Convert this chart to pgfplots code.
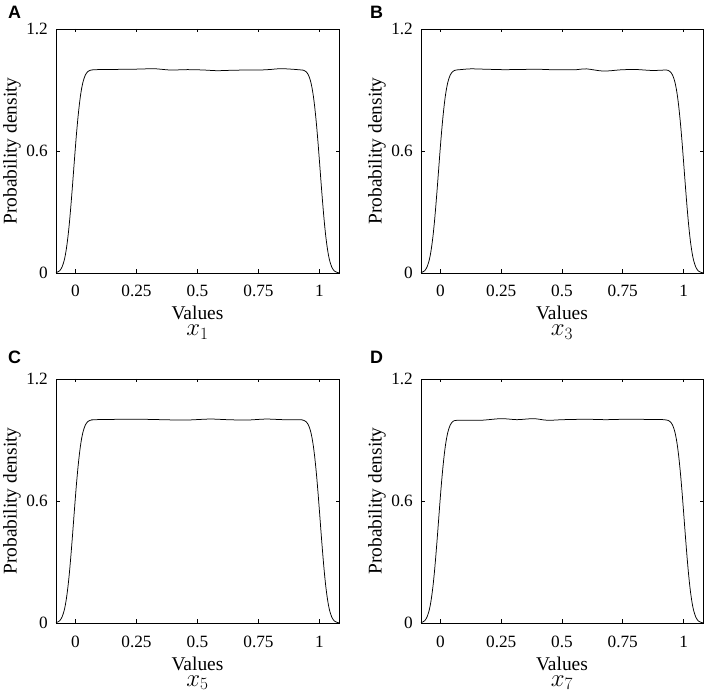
\documentclass[border=0pt]{standalone}
\usepackage{pgfplots}
\pgfplotsset{compat=1.18}
\usepackage{pgfplotstable}
\usepackage{fontspec}
\setmainfont{Liberation Serif}
\newfontfamily\letterfont{Liberation Sans}

\pgfplotstableread{
x y
-0.080 0.002
-0.075 0.004
-0.070 0.007
-0.065 0.011
-0.060 0.019
-0.055 0.030
-0.050 0.047
-0.045 0.069
-0.040 0.100
-0.035 0.140
-0.030 0.189
-0.025 0.248
-0.020 0.316
-0.015 0.390
-0.010 0.468
-0.005 0.548
0.000 0.626
0.005 0.699
0.010 0.764
0.015 0.821
0.020 0.869
0.025 0.907
0.030 0.936
0.035 0.957
0.040 0.973
0.045 0.983
0.050 0.990
0.055 0.994
0.060 0.997
0.070 0.999
0.080 1.000
0.150 1.001
0.210 1.002
0.270 1.003
0.320 1.005
0.390 0.998
0.440 1.000
0.480 1.000
0.530 0.998
0.580 0.995
0.640 0.997
0.690 0.998
0.750 0.998
0.800 1.001
0.840 1.005
0.890 1.002
0.930 0.998
0.935 0.997
0.940 0.994
0.945 0.990
0.950 0.983
0.955 0.973
0.960 0.957
0.965 0.936
0.970 0.907
0.975 0.869
0.980 0.821
0.985 0.764
0.990 0.699
0.995 0.626
1.000 0.548
1.005 0.468
1.010 0.390
1.015 0.316
1.020 0.248
1.025 0.189
1.030 0.140
1.035 0.100
1.040 0.069
1.045 0.047
1.050 0.030
1.055 0.019
1.060 0.011
1.065 0.007
1.070 0.004
1.075 0.002
1.080 0.001
}\dataA

\pgfplotstableread{
x y
-0.080 0.002
-0.075 0.004
-0.070 0.007
-0.065 0.011
-0.060 0.019
-0.055 0.030
-0.050 0.047
-0.045 0.069
-0.040 0.100
-0.035 0.140
-0.030 0.189
-0.025 0.248
-0.020 0.316
-0.015 0.390
-0.010 0.468
-0.005 0.548
0.000 0.626
0.005 0.699
0.010 0.764
0.015 0.821
0.020 0.869
0.025 0.907
0.030 0.936
0.035 0.957
0.040 0.973
0.045 0.983
0.050 0.990
0.055 0.994
0.060 0.997
0.070 0.999
0.080 1.000
0.125 1.004
0.190 1.002
0.260 1.000
0.330 1.001
0.400 1.002
0.450 1.000
0.505 0.999
0.560 1.000
0.600 1.004
0.670 0.993
0.740 0.999
0.800 1.001
0.870 0.996
0.920 0.998
0.930 0.998
0.935 0.997
0.940 0.994
0.945 0.990
0.950 0.983
0.955 0.973
0.960 0.957
0.965 0.936
0.970 0.907
0.975 0.869
0.980 0.821
0.985 0.764
0.990 0.699
0.995 0.626
1.000 0.548
1.005 0.468
1.010 0.390
1.015 0.316
1.020 0.248
1.025 0.189
1.030 0.140
1.035 0.100
1.040 0.069
1.045 0.047
1.050 0.030
1.055 0.019
1.060 0.011
1.065 0.007
1.070 0.004
1.075 0.002
1.080 0.001
}\dataB

\pgfplotstableread{
x y
-0.080 0.002
-0.075 0.004
-0.070 0.007
-0.065 0.011
-0.060 0.019
-0.055 0.030
-0.050 0.047
-0.045 0.069
-0.040 0.100
-0.035 0.140
-0.030 0.189
-0.025 0.248
-0.020 0.316
-0.015 0.390
-0.010 0.468
-0.005 0.548
0.000 0.626
0.005 0.699
0.010 0.764
0.015 0.821
0.020 0.869
0.025 0.907
0.030 0.936
0.035 0.957
0.040 0.973
0.045 0.983
0.050 0.990
0.055 0.994
0.060 0.997
0.070 0.999
0.080 1.000
0.200 1.002
0.270 1.002
0.350 1.000
0.450 0.998
0.550 1.003
0.620 1.000
0.700 0.998
0.780 1.003
0.850 1.000
0.920 1.000
0.930 0.998
0.935 0.997
0.940 0.994
0.945 0.990
0.950 0.983
0.955 0.973
0.960 0.957
0.965 0.936
0.970 0.907
0.975 0.869
0.980 0.821
0.985 0.764
0.990 0.699
0.995 0.626
1.000 0.548
1.005 0.468
1.010 0.390
1.015 0.316
1.020 0.248
1.025 0.189
1.030 0.140
1.035 0.100
1.040 0.069
1.045 0.047
1.050 0.030
1.055 0.019
1.060 0.011
1.065 0.007
1.070 0.004
1.075 0.002
1.080 0.001
}\dataC

\pgfplotstableread{
x y
-0.080 0.002
-0.075 0.004
-0.070 0.007
-0.065 0.011
-0.060 0.019
-0.055 0.030
-0.050 0.047
-0.045 0.069
-0.040 0.100
-0.035 0.140
-0.030 0.189
-0.025 0.248
-0.020 0.316
-0.015 0.390
-0.010 0.468
-0.005 0.548
0.000 0.626
0.005 0.699
0.010 0.764
0.015 0.821
0.020 0.869
0.025 0.907
0.030 0.936
0.035 0.957
0.040 0.973
0.045 0.983
0.050 0.990
0.055 0.994
0.060 0.996
0.070 0.997
0.080 0.997
0.166 0.997
0.250 1.005
0.315 1.000
0.383 1.005
0.440 0.997
0.505 1.000
0.600 1.002
0.680 1.000
0.760 1.002
0.870 1.001
0.920 1.000
0.930 0.998
0.935 0.997
0.940 0.994
0.945 0.990
0.950 0.983
0.955 0.973
0.960 0.957
0.965 0.936
0.970 0.907
0.975 0.869
0.980 0.821
0.985 0.764
0.990 0.699
0.995 0.626
1.000 0.548
1.005 0.468
1.010 0.390
1.015 0.316
1.020 0.248
1.025 0.189
1.030 0.140
1.035 0.100
1.040 0.069
1.045 0.047
1.050 0.030
1.055 0.019
1.060 0.011
1.065 0.007
1.070 0.004
1.075 0.002
1.080 0.001
}\dataD

\pgfplotsset{
  panel/.style={
    anchor=south west,
    scale only axis,
    height=244bp,
    xmin=-0.08, xmax=1.08,
    ymin=0, ymax=1.2,
    xtick={0,0.25,0.5,0.75,1},
    xticklabels={0,0.25,0.5,0.75,1},
    ytick={0,0.6,1.2},
    yticklabels={0,0.6,1.2},
    tick align=inside,
    major tick length=3.5bp,
    xtick pos=both, ytick pos=both,
    axis line style={line width=0.9bp, black},
    every tick/.style={line width=0.8bp, black},
    tick label style={font=\fontsize{17.3}{20}\selectfont, inner sep=0pt},
    xticklabel style={anchor=base, yshift=-24bp},
    yticklabel style={anchor=east, xshift=-8bp},
    label style={font=\fontsize{19.5}{23}\selectfont},
    xlabel={Values},
    xlabel style={at={(axis description cs:0.5,0)}, anchor=base, yshift=-47bp, inner sep=0pt},
    ylabel={Probability density},
    ylabel style={at={(axis description cs:0,0.5)}, anchor=center, yshift=44bp, inner sep=0pt},
    clip=false,
  },
  curve/.style={black, line width=0.75bp, smooth, tension=0.5, mark=none},
}
\tikzset{
  sublabel/.style={anchor=base, inner sep=0pt, font=\fontsize{23}{26}\selectfont, yshift=-63bp},
  letter/.style={anchor=north west, inner sep=0pt, font=\letterfont\bfseries\fontsize{18}{20}\selectfont},
}

\begin{document}
\begin{tikzpicture}
\useasboundingbox (0,0) rectangle (706bp,692bp);

\begin{axis}[panel, at={(56bp,419bp)}, width=283bp]
\addplot[curve] table[x=x,y=y] {\dataA};
\node[sublabel] at (axis description cs:0.5,0) {$x_1$};
\end{axis}

\begin{axis}[panel, at={(421bp,419bp)}, width=282bp]
\addplot[curve] table[x=x,y=y] {\dataB};
\node[sublabel] at (axis description cs:0.5,0) {$x_3$};
\end{axis}

\begin{axis}[panel, at={(56bp,69bp)}, width=283bp]
\addplot[curve] table[x=x,y=y] {\dataC};
\node[sublabel] at (axis description cs:0.5,0) {$x_5$};
\end{axis}

\begin{axis}[panel, at={(421bp,69bp)}, width=282bp]
\addplot[curve] table[x=x,y=y] {\dataD};
\node[sublabel] at (axis description cs:0.5,0) {$x_7$};
\end{axis}

\node[letter] at (8bp,686bp) {A};
\node[letter] at (370bp,686bp) {B};
\node[letter] at (8bp,341bp) {C};
\node[letter] at (370bp,341bp) {D};
\end{tikzpicture}
\end{document}
